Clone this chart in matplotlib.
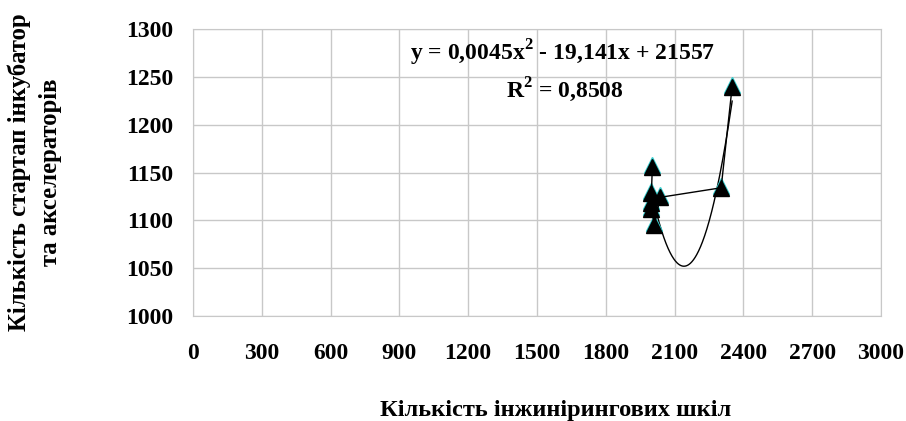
import matplotlib
matplotlib.use("Agg")
import matplotlib.pyplot as plt
import matplotlib.transforms as mtrans
import numpy as np

# data
eng_schools = [2003, 1999, 1999, 1999, 2012, 2037, 2303, 2351]
startups = [1156, 1129, 1118, 1112, 1095, 1124, 1134, 1240]

x_ticks = list(range(0, 3001, 300))
y_ticks = list(range(1000, 1301, 50))

plt.rcParams["font.family"] = ["Liberation Serif", "DejaVu Serif"]
plt.rcParams["font.weight"] = "bold"
plt.rcParams["mathtext.fontset"] = "custom"
plt.rcParams["mathtext.rm"] = "Liberation Serif:bold"
plt.rcParams["mathtext.bf"] = "Liberation Serif:bold"

fig = plt.figure(figsize=(9.06, 4.21), dpi=100)
ax = fig.add_axes([0.2130, 0.2501, 0.7594, 0.6803])

# quadratic trend line over the data range
coef = np.polyfit(eng_schools, startups, 2)
xx = np.linspace(min(eng_schools), max(eng_schools), 300)
ax.plot(xx, np.polyval(coef, xx), color="black", lw=1.0, zorder=3)

# cyan "shadow" then black triangles with the connecting line
shift = mtrans.offset_copy(ax.transData, fig=fig, x=0, y=2, units="dots")
ax.plot(eng_schools, startups, ls="none", marker="^", ms=11.5, color="#33CCCC",
        transform=shift, zorder=4)
ax.plot(eng_schools, startups, color="black", lw=1.0, marker="^", ms=11.5,
        mfc="black", mec="black", zorder=5)

ax.set_xlim(0, 3000)
ax.set_ylim(1000, 1300)
ax.set_xticks(x_ticks)
ax.set_yticks(y_ticks)
ax.tick_params(labelsize=17, length=0)
ax.tick_params(axis="x", pad=20)
ax.tick_params(axis="y", pad=14)
for lab in ax.get_xticklabels() + ax.get_yticklabels():
    lab.set_fontweight("bold")
ax.grid(True, color="#C8C8C8", lw=1.0)
ax.set_axisbelow(True)
for s in ax.spines.values():
    s.set_color("#C8C8C8")

fig.text(0.621, 0.874, r"y = 0,0045x$^{2}$ - 19,141x + 21557", ha="center",
         va="center", fontsize=17, fontweight="bold")
fig.text(0.624, 0.786, r"R$^{2}$ = 0,8508", ha="center", va="center",
         fontsize=17, fontweight="bold")

fig.text(0.038, 0.59, "Кількість стартап інкубатор\nта акселераторів", rotation=90,
         ha="center", va="center", fontsize=17.8, fontweight="bold", linespacing=1.45)
fig.text(0.613, 0.024, "Кількість інжинірингових шкіл", ha="center", va="center",
         fontsize=17.6, fontweight="bold")

fig.savefig("out.png", dpi=100, facecolor="white")
